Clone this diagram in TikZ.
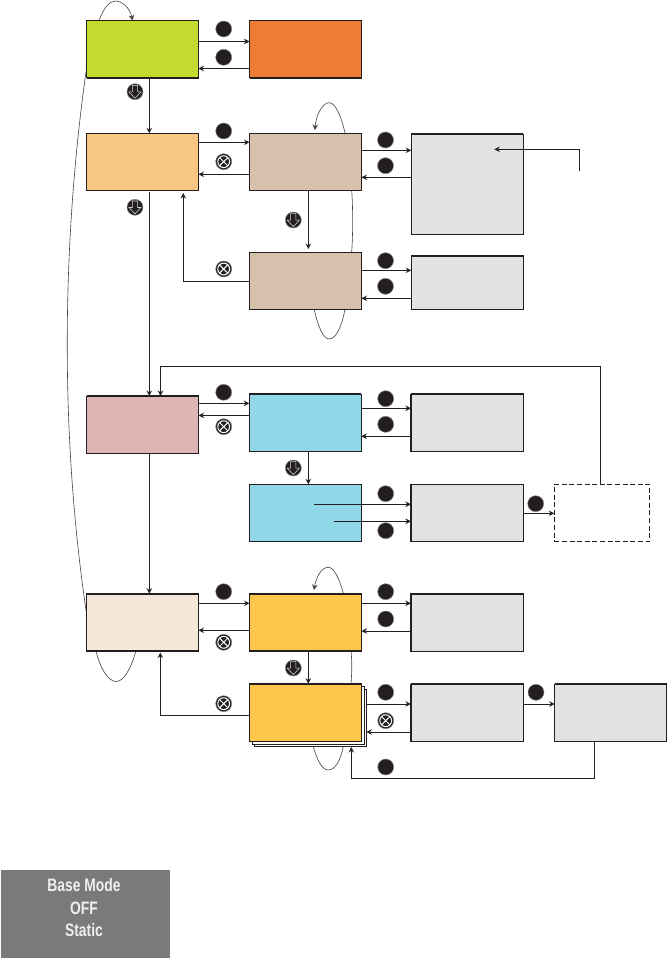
\documentclass[tikz,border=0pt]{standalone}
\usepackage{fontspec}
\newfontfamily\badgefont[FakeStretch=0.77]{Liberation Sans}
\usetikzlibrary{arrows.meta,backgrounds}
\definecolor{ink}{HTML}{231F20}
\definecolor{cgreen}{HTML}{C4DA2E}
\definecolor{corange}{HTML}{EE7C33}
\definecolor{cpeach}{HTML}{F8C684}
\definecolor{ctan}{HTML}{D5C1AC}
\definecolor{cgrey}{HTML}{E0E2E4}
\definecolor{cpink}{HTML}{DFB4B4}
\definecolor{cblue}{HTML}{90D7E8}
\definecolor{ccream}{HTML}{F5E8D9}
\definecolor{cyellow}{HTML}{FEC64B}
\definecolor{cbadge}{HTML}{7A7A7A}
\tikzset{
  x=1pt,y=-1pt,
  box/.style={draw=ink,line width=0.95pt,inner sep=0pt,outer sep=0pt,anchor=north west,
    minimum width=#1},
  box/.default=112pt,
  tall/.style={minimum height=100pt},
  h57/.style={minimum height=57.3pt},
  h54/.style={minimum height=53.6pt},
  heavy/.style={draw=ink,line width=1.9pt,line cap=butt},
  conn/.style={draw=ink,line width=0.95pt,-{Stealth[length=5.5pt,width=5.5pt,inset=1.8pt]}},
  loopline/.style={draw=ink!85,line width=0.6pt},
  loopend/.style={loopline,-{Stealth[length=5.5pt,width=5.5pt,inset=1.8pt]}},
  btn/.style={circle,fill=ink,draw=ink!55,line width=0.5pt,minimum size=16pt,inner sep=0pt,outer sep=0pt},
  downbtn/.style={btn,path picture={
    \draw[white!85!black,line width=0.55pt,line join=miter,shift={(path picture bounding box.center)}]
      (-2.6,-6.3)--(2.6,-6.3)--(2.6,0.2)--(6,0.2)--(0,6.6)--(-6,0.2)--(-2.6,0.2)--cycle;}},
  xbtn/.style={btn,path picture={
    \begin{scope}[shift={(path picture bounding box.center)}]
    \draw[white,line width=1pt] (0,0) circle[radius=5.9];
    \draw[white,line width=1pt] (-4.2,-4.2)--(4.2,4.2) (-4.2,4.2)--(4.2,-4.2);
    \end{scope}}},
}
\begin{document}
\begin{tikzpicture}
\useasboundingbox (0,0) rectangle (667,958);

% boxes
\node[box,h57,fill=cgreen]  (A) at (86.5,20.5) {};
\node[box,h57,fill=corange] (B) at (249.5,20.5) {};
\node[box,h57,fill=cpeach]  (C) at (86.5,133.3) {};
\node[box,h57,fill=ctan]    (D) at (249.5,133.3) {};
\node[box,tall,fill=cgrey]  (E) at (411.3,134.3) {};
\node[box,h57,fill=ctan]    (F) at (249.5,252.3) {};
\node[box,h54,fill=cgrey]   (G) at (411.3,255.7) {};
\node[box,h57,fill=cpink]   (H) at (86.5,396) {};
\node[box,h57,fill=cblue]   (I) at (249.3,394) {};
\node[box,h57,fill=cblue]   (J) at (249.3,484.3) {};
\node[box=112.8pt,h57,fill=cgrey]   (K) at (410.9,394) {};
\node[box=112.8pt,h57,fill=cgrey]   (L) at (410.9,484.3) {};
\node[box=95.4pt,h57,dash pattern=on 5pt off 2.6pt] (M) at (554.3,484.3) {};
\node[box,h57,fill=ccream]  (N) at (86.5,593.7) {};
\node[box,h57,fill=cyellow] (O) at (249.5,593.7) {};
\node[box=112.8pt,h57,fill=cgrey]   (S) at (410.9,593.7) {};
\node[box,minimum height=56.6pt,fill=white] (P3) at (254.3,689.7) {};
\node[box=111.6pt,minimum height=58pt,fill=white] (P2) at (252.7,686) {};
\node[box,minimum height=58pt,fill=cyellow] (P) at (249.5,683.7) {};
\node[box=112.8pt,h57,fill=cgrey]   (Q) at (410.9,684) {};
\node[box,h57,fill=cgrey]   (R) at (554.7,684) {};

% heavier edges
\draw[heavy] (A.south west)--(A.south east);
\draw[heavy] (B.south west)--(B.south east);
\draw[heavy] (E.north west)--(E.north east);
\draw[heavy] (G.north west)--(G.north east);
\draw[heavy] (H.north west)--(H.north east);
\draw[heavy] (I.north west)--(I.north east);
\draw[heavy] (K.north west)--(K.north east);
\draw[heavy] (K.north west)--(K.south west);
\draw[heavy] (L.north west)--(L.south west);
\draw[heavy] (N.north west)--(N.north east);
\draw[heavy] (N.south west)--(N.south east);
\draw[heavy] (O.north west)--(O.north east);
\draw[heavy] (O.south west)--(O.south east);
\draw[heavy] (P.north west)--(P.north east);
\draw[heavy] (S.north west)--(S.north east);
\draw[heavy] (S.north west)--(S.south west);
\draw[heavy] (Q.north west)--(Q.north east);
\draw[heavy] (Q.north west)--(Q.south west);
\draw[heavy] (R.north west)--(R.north east);

% loops behind the boxes
\begin{scope}[on background layer]
\draw[loopend] (N.south -| 136,0) .. controls (131,668) and (124,681.5) .. (116.3,681.5)
   .. controls (108,681.5) and (100,668) .. (96,651)
   .. controls (92,636) and (88,622) .. (86,610)
   .. controls (61,440) and (61,250) .. (86,72)
   .. controls (90,55) and (94,36) .. (99.3,20)
   .. controls (104,7) and (110,1) .. (115.7,1)
   .. controls (122,1) and (130,8) .. (132.5,20.5);
\draw[loopend] (F.south -| 314.3,0) .. controls (318,326) and (323,339) .. (329.3,339)
   .. controls (336,339) and (342,326) .. (345,309)
   .. controls (349,290) and (352,272) .. (351.7,252)
   .. controls (353,232) and (353,210) .. (351.7,190)
   .. controls (350,170) and (349,150) .. (345,133)
   .. controls (341,115) and (335,102.7) .. (329.3,102.7)
   .. controls (322,102.7) and (316,116) .. (314.8,130);
\draw[loopend] (P3.south -| 313.3,0) .. controls (317,760) and (322,770) .. (328.3,770)
   .. controls (335,770) and (341,760) .. (343.3,746)
   .. controls (348,725) and (351,705) .. (351,684)
   .. controls (352,672) and (352,660) .. (351,651)
   .. controls (350,630) and (348,610) .. (343.3,593)
   .. controls (339,578) and (334,567.3) .. (328.3,567.3)
   .. controls (321,567.3) and (316,578) .. (314,590);
\end{scope}

% connectors
\draw[conn] (A.east |- 0,41.5) -- (B.west |- 0,41.5);
\draw[conn] (B.west |- 0,68.5) -- (A.east |- 0,68.5);
\draw[conn] (A.south -| 149.3,0) -- (C.north -| 149.3,0);
\draw[conn] (C.east |- 0,142.3) -- (D.west |- 0,142.3);
\draw[conn] (D.west |- 0,174.3) -- (C.east |- 0,174.3);
\draw[conn] (149.3,192) -- (H.north -| 149.3,0);
\draw[conn] (D.south -| 308.3,0) -- (308.3,249);
\draw[conn] (D.east |- 0,150.3) -- (E.west |- 0,150.3);
\draw[conn] (E.west |- 0,177.3) -- (D.east |- 0,177.3);
\draw[conn] (F.east |- 0,270.3) -- (G.west |- 0,270.3);
\draw[conn] (G.west |- 0,298.3) -- (F.east |- 0,298.3);
\draw[conn] (F.west |- 0,281.3) -| (183.3,193);
\coordinate (free1) at (579.3,170.7);
\coordinate (free2) at (494.3,149.3);
\draw[conn] (free1) |- (free2);
\draw[conn] (H.east |- 0,403.4) -- (I.west |- 0,403.4);
\draw[conn] (I.west |- 0,415.4) -- (H.east |- 0,415.4);
\draw[conn] (I.east |- 0,408.3) -- (K.west |- 0,408.3);
\draw[conn] (K.west |- 0,436.3) -- (I.east |- 0,436.3);
\draw[conn] (I.south -| 308.3,0) -- (J.north -| 308.3,0);
\coordinate (j1) at (314,504.3);
\coordinate (j2) at (334,521.3);
\draw[conn] (j1) -- (L.west |- j1);
\draw[conn] (j2) -- (L.west |- j2);
\draw[conn] (L.east |- 0,513.3) -- (M.west |- 0,513.3);
\draw[conn] (M.north -| 600.3,0) -- (600.3,366.3) -- (160.5,366.3) -- (H.north -| 160.5,0);
\draw[conn] (H.south -| 149.3,0) -- (N.north -| 149.3,0);
\draw[conn] (N.east |- 0,603.3) -- (O.west |- 0,603.3);
\draw[conn] (O.west |- 0,630.3) -- (N.east |- 0,630.3);
\draw[conn] (O.east |- 0,603.3) -- (S.west |- 0,603.3);
\draw[conn] (S.west |- 0,631) -- (O.east |- 0,631);
\draw[conn] (O.south -| 308.3,0) -- (P.north -| 308.3,0);
\draw[conn] (P.west |- 0,715.3) -| (160.3,652.5);
\draw[conn] (P3.east |- 0,704) -- (Q.west |- 0,704);
\draw[conn] (Q.west |- 0,732) -- (P3.east |- 0,732);
\draw[conn] (Q.east |- 0,704) -- (R.west |- 0,704);
\draw[conn] (R.south -| 594.3,0) |- (351.3,778.3) -- (351.3,747);

% buttons
\node[btn] (b1) at (223.7,29) {};
\node[btn] (b2) at (223.7,57.3) {};
\node[downbtn] (b3) at (135,91.7) {};
\node[btn] (b4) at (223.7,131) {};
\node[xbtn] (b5) at (223.7,161.7) {};
\node[downbtn] (b6) at (135,207.3) {};
\node[downbtn] (b7) at (293.3,220) {};
\node[btn] (b8) at (385.5,140) {};
\node[btn] (b9) at (385.5,165.7) {};
\node[btn] (b10) at (385.5,260.7) {};
\node[btn] (b11) at (385.5,286.3) {};
\node[xbtn] (b12) at (223.7,269) {};
\node[btn] (b13) at (223.7,392.3) {};
\node[xbtn] (b14) at (223.7,426.7) {};
\node[btn] (b15) at (385.7,398.7) {};
\node[btn] (b16) at (385.7,424.3) {};
\node[downbtn] (b17) at (293.3,468) {};
\node[btn] (b18) at (385.7,493.7) {};
\node[btn] (b19) at (385.7,530.7) {};
\node[btn] (b20) at (535.7,503.7) {};
\node[btn] (b21) at (223.7,591.7) {};
\node[xbtn] (b22) at (223.7,642.3) {};
\node[btn] (b23) at (385.7,591.7) {};
\node[btn] (b24) at (385.7,619) {};
\node[downbtn] (b25) at (293.3,668) {};
\node[xbtn] (b26) at (223.7,703.7) {};
\node[btn] (b27) at (385.7,692.3) {};
\node[xbtn] (b28) at (385.7,720.7) {};
\node[btn] (b29) at (385.7,767) {};
\node[btn] (b30) at (536,692.3) {};

% legend
\node[fill=cbadge,draw=none,inner sep=0pt,outer sep=0pt,anchor=north west,minimum width=168.5pt,minimum height=88pt] (badge) at (1,870) {};
\node[text=white!88!cbadge,align=center,font=\badgefont\bfseries\fontsize{18}{22.4}\selectfont,inner sep=0pt] (badgetext) at (84,907.8) {Base Mode\\OFF\\Static};
\end{tikzpicture}
\end{document}
